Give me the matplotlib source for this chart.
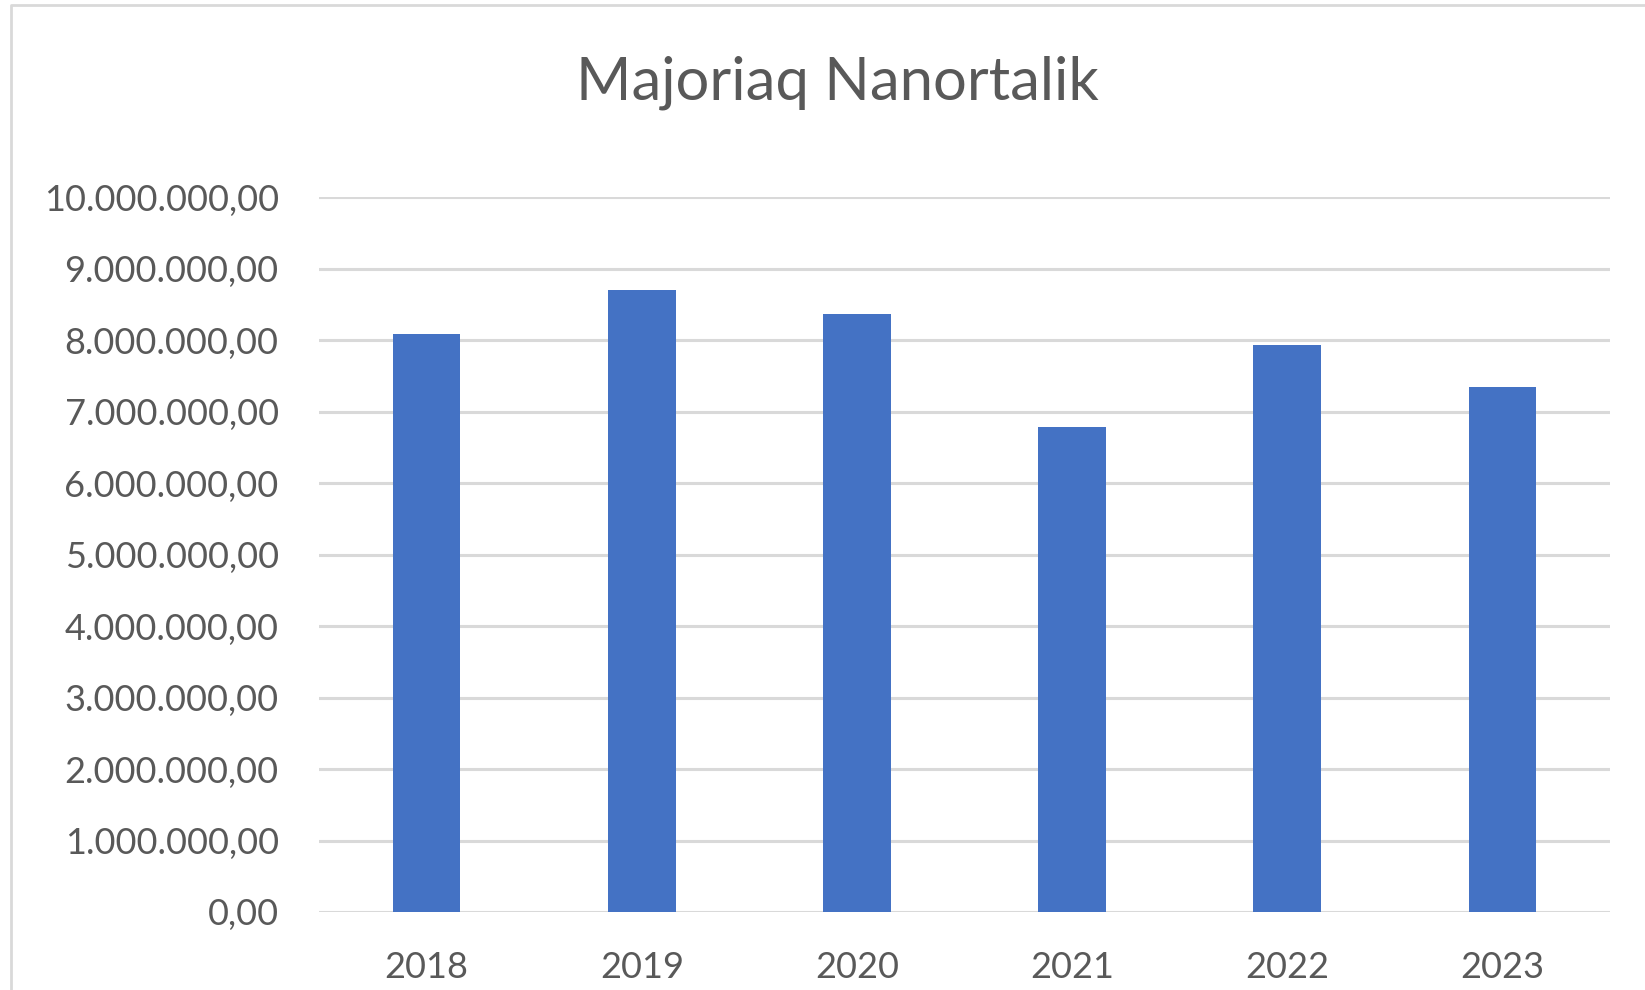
import matplotlib.pyplot as plt
from matplotlib.lines import Line2D
from matplotlib.ticker import FuncFormatter, MultipleLocator

years = ["2018", "2019", "2020", "2021", "2022", "2023"]
values = [8080000, 8700000, 8360000, 6780000, 7930000, 7340000]

bar_color = "#4472C4"
text_color = "#595959"
grid_color = "#D9D9D9"

plt.rcParams["font.family"] = ["Lato", "DejaVu Sans"]


def fmt_num(v, pos):
    s = f"{v:,.2f}"
    return s.replace(",", "X").replace(".", ",").replace("X", ".")


fig = plt.figure(figsize=(16.45, 9.9), dpi=100)
ax = fig.add_axes([319 / 1645, 1 - 912 / 990, (1610 - 319) / 1645, (912 - 197) / 990])

ax.bar(years, values, width=0.315, color=bar_color, zorder=3)

ax.set_ylim(0, 10000000)
ax.set_xlim(-0.5, len(years) - 0.5)
ax.yaxis.set_major_locator(MultipleLocator(1000000))
ax.yaxis.set_major_formatter(FuncFormatter(fmt_num))
ax.grid(axis="y", color=grid_color, linewidth=2.2, zorder=0)
ax.set_axisbelow(True)
for side in ["top", "right", "left", "bottom"]:
    ax.spines[side].set_visible(False)
ax.tick_params(axis="both", length=0, labelsize=26, labelcolor=text_color)
ax.tick_params(axis="y", pad=29)
ax.tick_params(axis="x", pad=28)

fig.text(837 / 1645, 1 - 100 / 990, "Majoriaq Nanortalik", ha="center", va="baseline",
         fontsize=43, color=text_color)

# chart area border (partially cropped)
bx = 10.5 / 1645
by = 1 - 4.7 / 990
fig.add_artist(Line2D([bx, bx, 1], [0, by, by], transform=fig.transFigure,
                      color=grid_color, linewidth=2))

fig.savefig("out.png", dpi=100)
